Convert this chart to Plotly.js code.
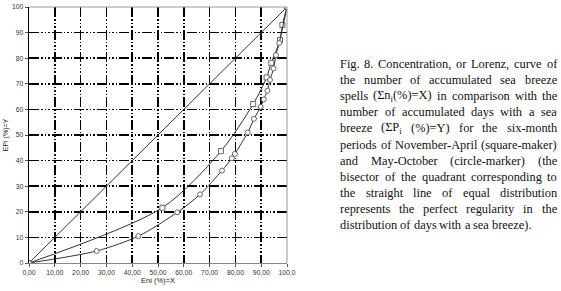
<!DOCTYPE html>
<html><head><meta charset="utf-8">
<script src="https://cdn.plot.ly/plotly-3.0.1.min.js"></script>
<style>html,body{margin:0;padding:0;background:#fff;overflow:hidden}</style>
</head><body><div id="chart" style="width:561px;height:291px"></div>
<script>
// ---- data ----
const bisectorX = [0, 100];
const bisectorY = [0, 100];
// November-April (square markers)
const squareX = [0, 51.7, 74.4, 86.9, 92.1, 93.9, 97.3, 98.2, 100];
const squareY = [0, 21.6, 43.7, 62.1, 72.5, 78.2, 87.1, 93.0, 100];
// May-October (circle markers)
const circleX = [0, 26.2, 42.4, 57.5, 66.3, 74.8, 78.6, 79.8, 84.8, 87.2, 89.8, 91.0, 92.4, 93.4, 94.8, 95.7, 97.0, 100];
const circleY = [0, 4.7, 10.5, 19.8, 26.8, 36.1, 40.9, 42.6, 51.0, 56.3, 61.0, 63.9, 67.3, 71.5, 76.0, 81.2, 86.0, 100];
const xTickVals = [0, 10, 20, 30, 40, 50, 60, 70, 80, 90, 100];
const xTickText = ["0,00", "10,00", "20,00", "30,00", "40,00", "50,00", "60,00", "70,00", "80,00", "90,00", "100,0"];
const yTickVals = [0, 10, 20, 30, 40, 50, 60, 70, 80, 90, 100];
const yTickText = ["0", "10", "20", "30", "40", "50", "60", "70", "80", "90", "100"];
const xTitle = "Eni (%)=X";
const yTitle = "EPi (%)=Y";
const captionLines = [
  "Fig. 8. Concentration, or Lorenz, curve of",
  "the number of accumulated sea breeze",
  "spells (Σn<sub>i</sub>(%)=X) in comparison with the",
  "number of accumulated days with a sea",
  "breeze (ΣP<sub>i</sub> (%)=Y) for the six-month",
  "periods of November-April (square-maker)",
  "and May-October (circle-marker) (the",
  "bisector of the quadrant corresponding to",
  "the straight line of equal distribution",
  "represents the perfect regularity in the",
  "distribution of days with a sea breeze)."
];

// ---- layout geometry ----
const W = 561, H = 291;
const L = 29, R = 287, T = 7, B = 263;
const PW = R - L, PH = B - T;
const FS = 12.4, CX0 = 340, CX1 = 557, CY0 = 64, CDY = 16.1;
const serif = '"Liberation Serif", "Times New Roman", serif';

const ctx = document.createElement('canvas').getContext('2d');
function tokWidth(tok) {
  let total = 0;
  const parts = tok.split(/(<sub>.*?<\/sub>)/);
  for (const p of parts) {
    if (!p) continue;
    const m = p.match(/^<sub>(.*)<\/sub>$/);
    if (m) { ctx.font = (FS * 0.7) + 'px "Liberation Serif"'; total += ctx.measureText(m[1]).width; }
    else { ctx.font = FS + 'px "Liberation Serif"'; total += ctx.measureText(p).width; }
  }
  return total;
}

const annotations = [];
captionLines.forEach((line, i) => {
  const words = line.split(' ');
  const widths = words.map(tokWidth);
  const sum = widths.reduce((a, b) => a + b, 0);
  const last = i === captionLines.length - 1;
  ctx.font = FS + 'px "Liberation Serif"';
  const spaceW = ctx.measureText(' ').width;
  const gap = last ? spaceW : (CX1 - CX0 - sum) / (words.length - 1);
  let px = CX0;
  const py = CY0 + CDY * i;
  words.forEach((wd, j) => {
    annotations.push({
      text: wd, xref: 'paper', yref: 'paper',
      x: (px - L) / PW, y: (B - py) / PH,
      xanchor: 'left', yanchor: 'middle', showarrow: false,
      borderpad: 0, borderwidth: 0,
      font: {family: serif, size: FS, color: '#111'}
    });
    px += widths[j] + gap;
  });
});

const gridDash = '10px,2px,1.5px,2px,1.5px,2px,1.5px,2px';
const tickFont = {family: 'Liberation Sans, Arial, sans-serif', size: 6.8, color: '#333'};

const traces = [
  {x: bisectorX, y: bisectorY, mode: 'lines', line: {color: '#333', width: 1}, hoverinfo: 'skip'},
  {x: squareX, y: squareY, mode: 'lines+markers',
   line: {color: '#333', width: 1, shape: 'spline', smoothing: 0.8},
   marker: {symbol: 'square', size: 5, color: '#fff', line: {color: '#666', width: 1}}},
  {x: circleX, y: circleY, mode: 'lines+markers',
   line: {color: '#333', width: 1, shape: 'spline', smoothing: 0.8},
   marker: {symbol: 'circle', size: 5, color: '#fff', line: {color: '#666', width: 1}}}
];

const layout = {
  width: W, height: H,
  margin: {l: L, r: W - R, t: T, b: H - B, pad: 0},
  paper_bgcolor: '#fff', plot_bgcolor: '#fff',
  showlegend: false,
  xaxis: {
    range: [0, 100], tickvals: xTickVals, ticktext: xTickText,
    showgrid: true, gridcolor: '#000', gridwidth: 1.6, griddash: gridDash,
    zeroline: false, showline: true, linecolor: '#888', linewidth: 1,
    ticks: 'outside', ticklen: 3, tickcolor: '#555', tickfont: tickFont,
    title: {text: xTitle, font: {family: 'Liberation Sans, Arial, sans-serif', size: 7.5, color: '#222'}, standoff: 2}
  },
  yaxis: {
    range: [0, 100], tickvals: yTickVals, ticktext: yTickText,
    showgrid: true, gridcolor: '#000', gridwidth: 1.6, griddash: gridDash,
    zeroline: false, showline: true, linecolor: '#000', linewidth: 1.4,
    ticks: 'outside', ticklen: 3, tickcolor: '#555', tickfont: tickFont,
    title: {text: yTitle, font: {family: 'Liberation Sans, Arial, sans-serif', size: 7, color: '#222'}, standoff: 2}
  },
  shapes: [
    {type: 'line', xref: 'paper', yref: 'paper', x0: 0, x1: 1, y0: 1, y1: 1, line: {color: '#999', width: 1}, layer: 'above'},
    {type: 'line', xref: 'paper', yref: 'paper', x0: 1, x1: 1, y0: 0, y1: 1, line: {color: '#999', width: 1}, layer: 'above'}
  ],
  annotations: annotations
};

Plotly.newPlot('chart', traces, layout, {displayModeBar: false, staticPlot: true});
</script>
</body></html>
